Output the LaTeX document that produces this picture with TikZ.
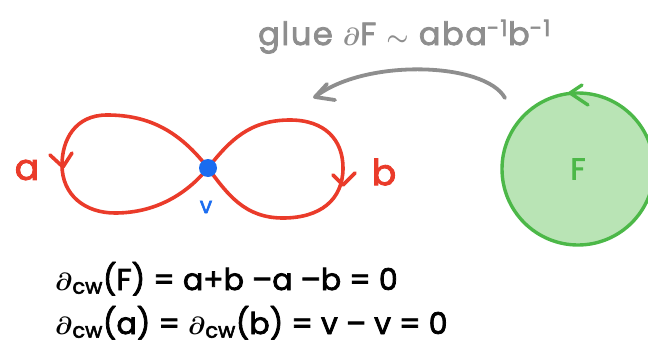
\documentclass[tikz,border=0pt]{standalone}
\usepackage{amsmath}
\usepackage{fontspec}
\setmainfont{Poppins}[FakeBold=2.5]
\definecolor{loopred}{HTML}{EA3B2A}
\definecolor{vblue}{HTML}{1A6CF0}
\definecolor{fgreen}{HTML}{4CB848}
\definecolor{ffill}{HTML}{B9E4B5}
\definecolor{gluegray}{HTML}{8E8E8E}
\newcommand{\bdel}{$\boldsymbol{\partial}$}
\begin{document}
\begin{tikzpicture}[x=1pt,y=-1pt,
  redline/.style={draw=loopred,line width=3.6pt,line cap=round,line join=round},
  greenline/.style={draw=fgreen,line width=3.4pt,line cap=round,line join=round},
  grayline/.style={draw=gluegray,line width=3.8pt,line cap=round,line join=round},
  eqtext/.style={anchor=base west,inner sep=0pt,font=\fontsize{30}{34}\selectfont},
  lbl/.style={inner sep=0pt,font=\fontsize{36}{40}\selectfont}]
\useasboundingbox (0,0) rectangle (648,356);
% green face
\path[clip] (0,0) rectangle (648,356);
\node[circle,minimum size=152pt,fill=ffill,draw=fgreen,line width=3.4pt] (face) at (578,169) {};
\node[lbl,text=fgreen,font=\fontsize{30}{32}\selectfont] (flbl) at (face.center) {F};
\draw[greenline] (582,85) -- (570,93) -- (588,105);
% figure eight
\coordinate (v) at (208,168);
\draw[redline] (v) .. controls (180,132) and (150,115) .. (107,115)
  .. controls (75,115) and (62,140) .. (62,165)
  .. controls (62,195) and (85,213) .. (115,213)
  .. controls (160,213) and (190,190) .. (v);
\draw[redline] (v) .. controls (230,140) and (250,120) .. (290,120)
  .. controls (325,120) and (343,140) .. (343,168)
  .. controls (343,200) and (320,218) .. (283,218)
  .. controls (245,218) and (228,195) .. (v);
\draw[redline] (50,155) -- (63,167) -- (72,153);
\draw[redline] (333,175) -- (343,185) -- (355,173);
\node[circle,fill=vblue,minimum width=16pt,minimum height=18pt,inner sep=0pt] (vdot) at (v) {};
\node[lbl,text=loopred] (albl) at (27,170) {a};
\node[lbl,text=loopred] (blbl) at (384,172) {b};
\node[inner sep=0pt,text=vblue,font=\fontsize{22}{24}\selectfont] (vlbl) at (206,207) {v};
% glue arrow
\coordinate (gstart) at (505,98);
\coordinate (gend) at (315,97);
\draw[grayline] (gstart) .. controls (485,62) and (365,58) .. (gend);
\draw[grayline] (327,84) -- (gend) -- (335,100);
\node[anchor=base west,inner sep=0pt,text=gluegray,font=\fontsize{32}{34}\selectfont\addfontfeature{LetterSpace=5}] (glue) at (258,45) {glue \bdel F $\boldsymbol{\sim}$ aba\textsuperscript{-1}b\textsuperscript{-1}};
% equations
\node[eqtext] (eq1) at (55,290) {\bdel\textsubscript{cw}(F) = a+b –a –b = 0};
\node[eqtext] (eq2) at (55,334) {\bdel\textsubscript{cw}(a) = \bdel\textsubscript{cw}(b) = v – v = 0};
\end{tikzpicture}
\end{document}
